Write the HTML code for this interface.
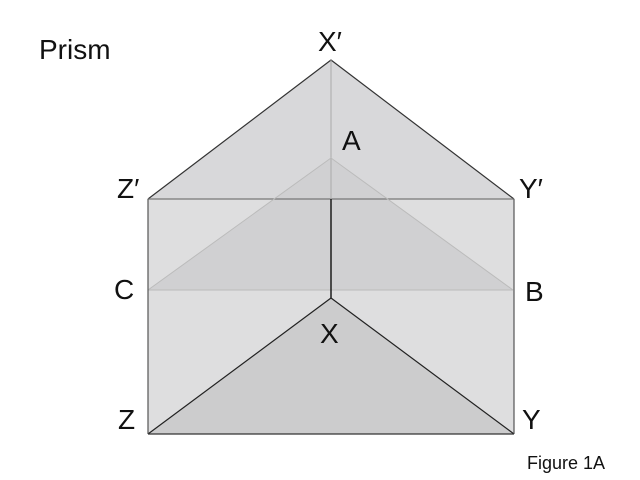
<!DOCTYPE html>
<html><head><style>body{margin:0;background:#fff}</style></head><body>
<svg width="640" height="480" xmlns="http://www.w3.org/2000/svg" style="display:block">
<rect x="148" y="199" width="366" height="235" fill="#dededf"/>
<polygon points="331,60 148,199 514,199" fill="#d8d8da"/>
<polygon points="331,158 148,290 513,290" fill="#d0d0d2"/>
<polygon points="331,298 148,434 514,434" fill="#cccccd"/>
<g fill="none" stroke-linejoin="round">
<polyline points="148,199 331,60 514,199" stroke="#333" stroke-width="1.2"/>
<line x1="148" y1="199" x2="514" y2="199" stroke="#777" stroke-width="1.2"/>
<line x1="331" y1="60" x2="331" y2="199" stroke="#aaa" stroke-width="1"/>
<polyline points="148,290 331,158 513,290" stroke="#bbb" stroke-width="1"/>
<line x1="148" y1="290" x2="513" y2="290" stroke="#bbb" stroke-width="1"/>
<line x1="331" y1="199" x2="331" y2="298" stroke="#111" stroke-width="1.4"/>
<polyline points="148,434 331,298 514,434" stroke="#222" stroke-width="1.2"/>
<line x1="148" y1="199" x2="148" y2="434" stroke="#555" stroke-width="1.2"/>
<line x1="514" y1="199" x2="514" y2="434" stroke="#555" stroke-width="1.2"/>
<line x1="148" y1="434" x2="514" y2="434" stroke="#333" stroke-width="1.2"/>
</g>
<g font-family="Liberation Sans, sans-serif" font-size="28" fill="#111">
<text x="39" y="59">Prism</text>
<text x="318" y="51">X′</text>
<text x="342" y="150">A</text>
<text x="117" y="198">Z′</text>
<text x="519" y="198">Y′</text>
<text x="114" y="299">C</text>
<text x="525" y="301">B</text>
<text x="320" y="343">X</text>
<text x="118" y="429">Z</text>
<text x="522" y="429">Y</text>
<text x="527" y="469" font-size="18">Figure 1A</text>
</g>
</svg>
</body></html>
